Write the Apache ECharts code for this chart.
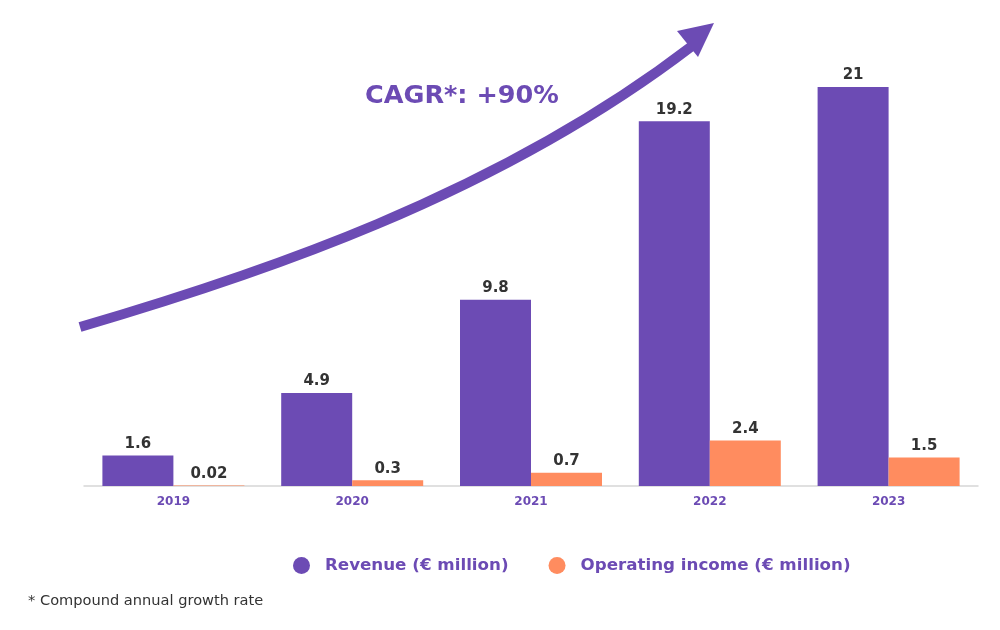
<!DOCTYPE html>
<html><head><meta charset="utf-8">
<script src="https://cdn.jsdelivr.net/npm/echarts@6/dist/echarts.min.js"></script>
<style>html,body{margin:0;padding:0;background:#fff}#c{width:1000px;height:630px}</style>
</head><body><div id="c"></div>
<script>
const years = ['2019','2020','2021','2022','2023'];
const revenue = [1.6, 4.9, 9.8, 19.2, 21];
const operatingIncome = [0.02, 0.3, 0.7, 2.4, 1.5];
const seriesNames = ['Revenue (€ million)', 'Operating income (€ million)'];
const cagrText = 'CAGR*: +90%';
const footnote = '* Compound annual growth rate';

const PURPLE = '#6c4bb4', ORANGE = '#ff8c5f';
const FONT = 'DejaVu Sans';
const chart = echarts.init(document.getElementById('c'), null, {renderer:'canvas'});
const labelStyle = {show:true, position:'top', distance:4, color:'#333', fontSize:15, fontWeight:'bold', fontFamily:FONT};
chart.setOption({
  animation:false,
  textStyle:{fontFamily:FONT},
  grid:{left:84, right:22, top:68, bottom:144},
  xAxis:{type:'category', data:years, axisTick:{show:false},
    axisLine:{lineStyle:{color:'#d6d6d6', width:1.5}},
    axisLabel:{color:PURPLE, fontWeight:'bold', fontSize:12, margin:10, fontFamily:FONT}},
  yAxis:{type:'value', min:0, max:22, show:false, splitLine:{show:false}},
  legend:{left:288, top:552, icon:'circle', itemWidth:17, itemHeight:17, itemGap:40,
    textStyle:{color:PURPLE, fontSize:16.7, fontWeight:'bold', fontFamily:FONT, padding:[0,0,0,10]},
    data:seriesNames},
  series:[
    {name:seriesNames[0], type:'bar', data:revenue, barWidth:71, barGap:'0%', itemStyle:{color:PURPLE}, label:labelStyle},
    {name:seriesNames[1], type:'bar', data:operatingIncome, barWidth:71, itemStyle:{color:ORANGE}, label:labelStyle}
  ],
  graphic:[
    {type:'bezierCurve', shape:{x1:80,y1:327,cpx1:254,cpy1:276,cpx2:495,cpy2:197,x2:692,y2:46},
      style:{stroke:PURPLE, lineWidth:10, fill:null}},
    {type:'polygon', shape:{points:[[714,23],[677,31],[698,57]]}, style:{fill:PURPLE}},
    {type:'text', left:365, top:83, style:{text:cagrText, fill:PURPLE, font:'bold 25.5px '+FONT}},
    {type:'text', left:28, top:594, style:{text:footnote, fill:'#333', font:'14.6px '+FONT}}
  ]
});
</script></body></html>
